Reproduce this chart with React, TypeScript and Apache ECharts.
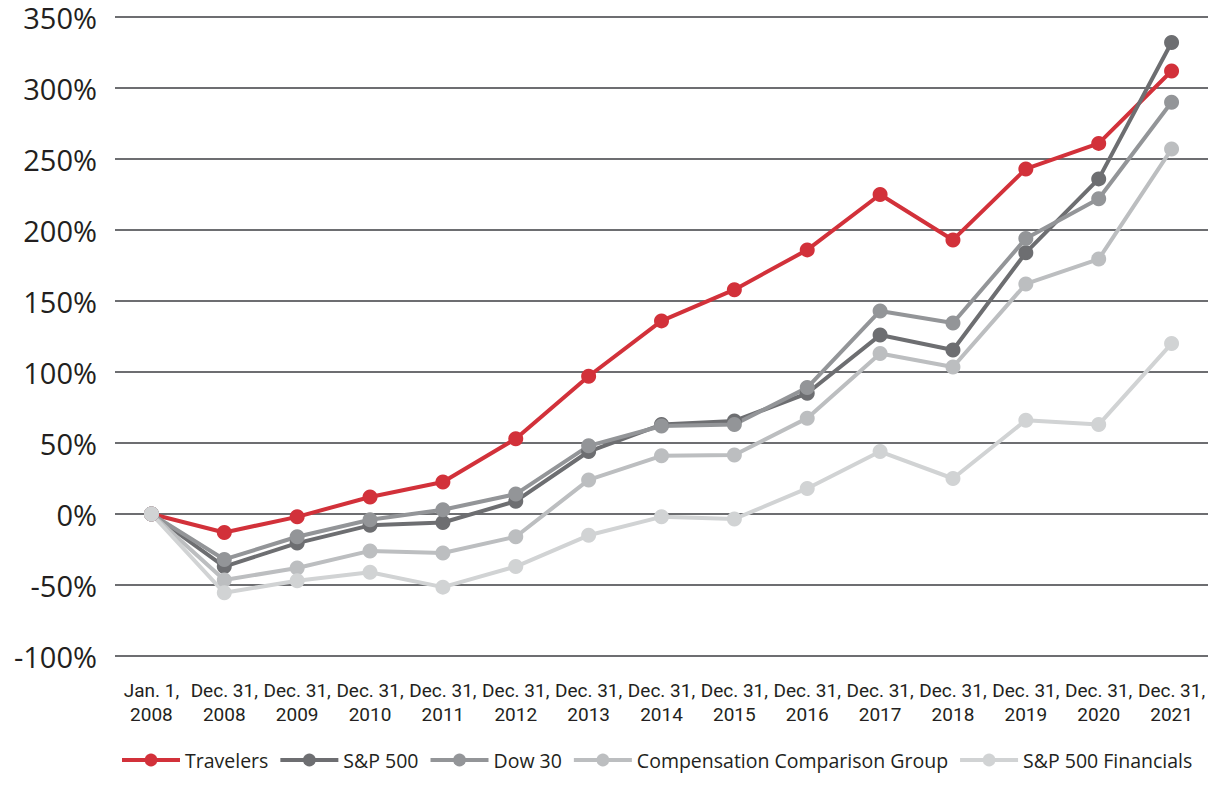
import React, { useEffect, useRef } from "react";
import * as echarts from "echarts";

const categories = [
  "Jan. 1,\n2008",
  "Dec. 31,\n2008",
  "Dec. 31,\n2009",
  "Dec. 31,\n2010",
  "Dec. 31,\n2011",
  "Dec. 31,\n2012",
  "Dec. 31,\n2013",
  "Dec. 31,\n2014",
  "Dec. 31,\n2015",
  "Dec. 31,\n2016",
  "Dec. 31,\n2017",
  "Dec. 31,\n2018",
  "Dec. 31,\n2019",
  "Dec. 31,\n2020",
  "Dec. 31,\n2021",
];

const travelers = [0, -13, -2, 12, 22.5, 53, 97, 136, 158, 186, 225, 193, 243, 261, 312];
const sp500 = [0, -37, -20.5, -8, -6, 9, 44, 63, 65.5, 85, 126, 115.5, 184, 236, 332];
const dow30 = [0, -32, -16, -4, 3, 14, 48, 62, 63, 89, 143, 134.5, 194, 222, 290];
const compGroup = [0, -46.5, -38, -26, -27.5, -16, 24, 41, 41.5, 67.5, 113, 103.5, 162, 179.5, 257];
const spFinancials = [0, -55.5, -47, -41, -51.5, -37, -15, -2, -3.5, 18, 44, 25, 66, 63, 120];

const seriesNames = ["Travelers", "S&P 500", "Dow 30", "Compensation Comparison Group", "S&P 500 Financials"];
const seriesColors = ["#d2313a", "#6d6e71", "#939598", "#bcbec0", "#d1d3d4"];
const seriesData = [travelers, sp500, dow30, compGroup, spFinancials];

export default function App() {
  const ref = useRef<HTMLDivElement>(null);
  useEffect(() => {
    if (!ref.current) return;
    const chart = echarts.init(ref.current, undefined, { renderer: "svg" });
    chart.setOption({
      animation: false,
      backgroundColor: "#ffffff",
      grid: { left: 115, right: 5, top: 17, bottom: 131, containLabel: false },
      legend: {
        left: 115,
        bottom: 12,
        itemWidth: 58,
        itemHeight: 16,
        itemGap: 10,
        lineStyle: { width: 4 },
        textStyle: { fontFamily: "Open Sans", fontSize: 19.5, color: "#231f20" },
        data: seriesNames,
      },
      xAxis: {
        type: "category",
        data: categories,
        boundaryGap: true,
        axisLine: { show: false },
        axisTick: { show: false },
        axisLabel: {
          interval: 0,
          margin: 22,
          fontFamily: "Roboto",
          fontSize: 19,
          lineHeight: 24,
          color: "#231f20",
        },
      },
      yAxis: {
        type: "value",
        min: -100,
        max: 350,
        interval: 50,
        axisLine: { show: false },
        axisTick: { show: false },
        axisLabel: {
          formatter: "{value}%",
          margin: 18,
          fontFamily: "Open Sans",
          fontSize: 29,
          lineHeight: 30,
          color: "#231f20",
        },
        splitLine: { lineStyle: { color: "#6d6e71", width: 2 } },
      },
      series: seriesNames.map((name, i) => ({
        name,
        type: "line",
        data: seriesData[i],
        symbol: "circle",
        symbolSize: 15,
        showSymbol: true,
        lineStyle: { color: seriesColors[i], width: 4 },
        itemStyle: { color: seriesColors[i] },
      })),
    });
    return () => chart.dispose();
  }, []);
  return <div ref={ref} style={{ width: 1213, height: 787, position: "absolute", left: 0, top: 0 }} />;
}
